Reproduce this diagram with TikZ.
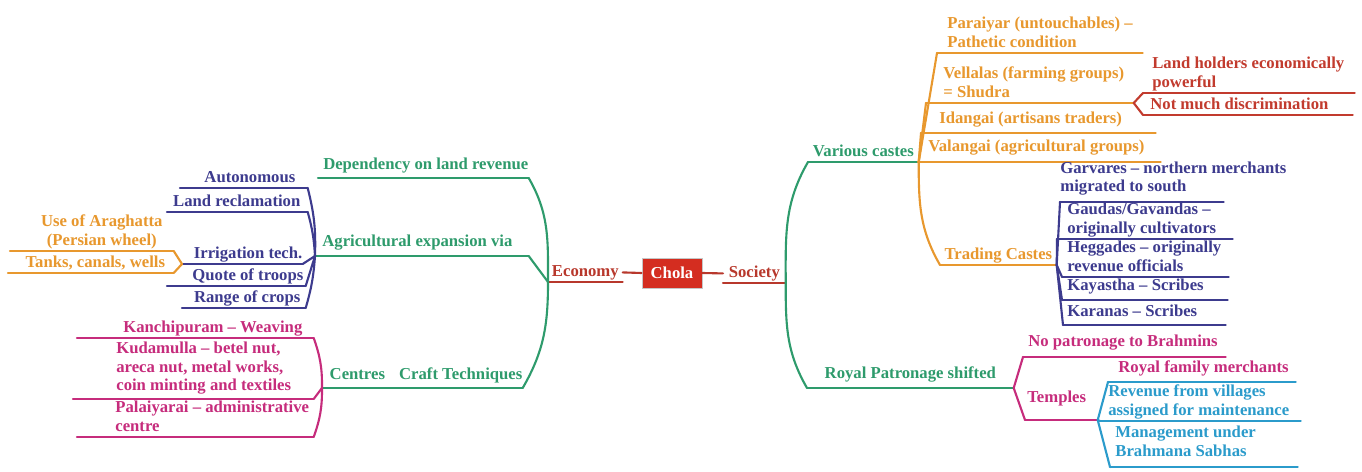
\documentclass[tikz,border=0pt]{standalone}
\usepackage{fontspec}
\setmainfont{Liberation Serif}
\newlength{\pix}
\setlength{\pix}{0.02cm}
\newcommand{\mmfont}{\bfseries\fontsize{9.5}{10.5}\selectfont}
\definecolor{cholared}{HTML}{D42D20}
\definecolor{brick}{HTML}{B8382C}
\definecolor{mmgreen}{HTML}{2E9B6C}
\definecolor{mmblue}{HTML}{3D3B8E}
\definecolor{mmorange}{HTML}{E8982E}
\definecolor{mmpink}{HTML}{C62C7C}
\definecolor{mmred}{HTML}{C23B2E}
\definecolor{mmcyan}{HTML}{2B9BCB}
\tikzset{
	uline/.style={draw=#1, line width=1.2pt, line cap=round},
	link/.style={draw=#1, line width=1.2pt, line cap=round},
	root/.style={draw=gray!45, fill=cholared, text=white, font=\mmfont, minimum width=60\pix, minimum height=30\pix, inner sep=0pt},
	topic/.style={font=\mmfont, text=#1, anchor=south west, inner xsep=0pt, inner ysep=0pt, execute at end node=\strut,
		append after command={(\tikzlastnode.south west) edge[uline=#1] (\tikzlastnode.south east)}},
	lpad/.style={execute at begin node={\leftskip=#1\relax}},
	rpad/.style={execute at begin node={\rightskip=#1\relax}},
	deep/.style={execute at end node={\rule[-#1]{0pt}{#1}}}
}

\begin{document}
\begin{tikzpicture}[x=0.02cm, y=-0.02cm]
	\useasboundingbox[fill=white] (0,0) rectangle (1362,472);
	\node[root] (chola) at (672,273) {Chola};
	\node[topic=brick, text width=74\pix, align=flush center] (econ) at (548,282) {Economy};
	\node[topic=brick, text width=62\pix, align=flush center] (soc) at (723,283) {Society};

	\node[topic=mmgreen, text width=210\pix, align=flush right, deep=4.5pt] (dep) at (318,178) {Dependency on land revenue};
	\node[topic=mmgreen, text width=213\pix, align=flush left, lpad=7\pix, deep=5pt] (agr) at (315,256) {Agricultural expansion via};
	\node[topic=mmgreen, text width=130\pix, align=flush right, deep=4.5pt] (craft) at (392,388) {Craft Techniques};
	\node[topic=mmgreen, text width=70\pix, align=flush center, deep=4.5pt] (centres) at (322,388) {Centres};

	\node[topic=mmblue, text width=127\pix, align=flush right, rpad=12\pix] (auto) at (180,188) {Autonomous};
	\node[topic=mmblue, text width=140\pix, align=flush right, rpad=7\pix] (landrec) at (167,212) {Land reclamation};
	\node[topic=mmblue, text width=120\pix, align=flush right] (irr) at (182,264) {Irrigation tech.};
	\node[topic=mmblue, text width=138\pix, align=flush right, rpad=2\pix] (quote) at (167,286) {Quote of troops};
	\node[topic=mmblue, text width=123\pix, align=flush right, rpad=5\pix] (range) at (182,308) {Range of crops};

	\node[topic=mmorange, text width=163\pix, align=flush center, lpad={20\pix plus 1fil}] (arag) at (10,251) {Use of Araghatta\\(Persian wheel)};
	\node[topic=mmorange, text width=165\pix, align=flush center, lpad={9\pix plus 1fil}] (tanks) at (8,273) {Tanks, canals, wells};

	\node[topic=mmpink, text width=236\pix, align=flush right, rpad=11\pix] (kanchi) at (77,338) {Kanchipuram – Weaving};
	\node[topic=mmpink, text width=240\pix, align=flush left, lpad=43\pix, deep=4.5pt] (kuda) at (73,399) {Kudamulla – betel nut,\\areca nut, metal works,\\coin minting and textiles};
	\node[topic=mmpink, text width=236\pix, align=flush left, lpad=38\pix] (pala) at (77,437) {Palaiyarai – administrative\\centre};

	\node[topic=mmgreen, text width=110\pix, align=flush center] (various) at (808,162) {Various castes};
	\node[topic=mmgreen, text width=206\pix, align=flush center, deep=5pt] (roy) at (807,388) {Royal Patronage shifted};

	\node[topic=mmorange, text width=205\pix, align=flush left, lpad=10\pix] (para) at (937,53) {Paraiyar (untouchables) –\\Pathetic condition};
	\node[topic=mmorange, text width=207\pix, align=flush left, lpad=17\pix] (vell) at (926,103) {Vellalas (farming groups)\\= Shudra};
	\node[topic=mmorange, text width=234\pix, align=flush left, lpad=18\pix, deep=5pt] (idan) at (921,133) {Idangai (artisans traders)};
	\node[topic=mmorange, text width=242\pix, align=flush left, lpad=10\pix, deep=5.5pt] (vala) at (918,162) {Valangai (agricultural groups)};
	\node[topic=mmorange, text width=116\pix, align=flush center] (trad) at (940,265) {Trading Castes};

	\node[topic=mmred, text width=211\pix, align=flush left, lpad=9\pix] (landh) at (1143,93) {Land holders economically\\powerful};
	\node[topic=mmred, text width=209\pix, align=flush left, lpad=7\pix] (notm) at (1143,115) {Not much discrimination};

	\node[topic=mmblue, text width=163\pix, align=flush left, deep=5.5pt] (garv) at (1060,202) {\mbox{Garvares – northern merchants}\\migrated to south};
	\node[topic=mmblue, text width=175\pix, align=flush left, lpad=10\pix] (gaud) at (1057,239) {Gaudas/Gavandas –\\originally cultivators};
	\node[topic=mmblue, text width=166\pix, align=flush left, lpad=5\pix] (hegg) at (1062,277) {Heggades – originally\\revenue officials};
	\node[topic=mmblue, text width=165\pix, align=flush left, lpad=5\pix, deep=5pt] (kaya) at (1062,300) {Kayastha – Scribes};
	\node[topic=mmblue, text width=162\pix, align=flush left, lpad=4\pix, deep=4.5pt] (kara) at (1063,325) {Karanas – Scribes};

	\node[topic=mmpink, text width=202\pix, align=flush left, lpad=5\pix, deep=5.5pt] (nopat) at (1023,357) {No patronage to Brahmins};
	\node[topic=mmpink, text width=72\pix, align=flush left, lpad=2\pix, deep=10pt] (temp) at (1025,420) {Temples};

	\node[topic=mmcyan, text=mmpink, text width=187\pix, align=flush left, lpad=10\pix, deep=5pt] (royf) at (1108,382) {Royal family merchants};
	\node[topic=mmcyan, text width=200\pix, align=flush left, lpad=8\pix] (reve) at (1100,421) {Revenue from villages\\assigned for maintenance};
	\node[topic=mmcyan, text width=187\pix, align=flush left, lpad=5\pix, deep=6pt] (mana) at (1110,467) {Management under\\Brahmana Sabhas};

	\draw[link=brick] (chola.west) -- (econ.east);
	\draw[link=brick] (chola.east) -- (soc.west);

	\draw[link=mmgreen] (econ.south west) to[out=90, in=-60] (dep.south east);
	\draw[link=mmgreen] (econ.south west) -- (agr.south east);
	\draw[link=mmgreen] (econ.south west) to[out=-90, in=60] (craft.south east);

	\draw[link=mmblue] (agr.south west) to[bend right=8] (auto.south east);
	\draw[link=mmblue] (agr.south west) to[bend right=6] (landrec.south east);
	\draw[link=mmblue] (agr.south west) -- (irr.south east);
	\draw[link=mmblue] (agr.south west) -- (quote.south east);
	\draw[link=mmblue] (agr.south west) to[bend left=6] (range.south east);

	\draw[link=mmorange] (irr.south west) -- (arag.south east);
	\draw[link=mmorange] (irr.south west) -- (tanks.south east);

	\draw[link=mmpink] (centres.south west) to[bend right=10] (kanchi.south east);
	\draw[link=mmpink] (centres.south west) -- (kuda.south east);
	\draw[link=mmpink] (centres.south west) to[bend left=10] (pala.south east);

	\draw[link=mmgreen] (soc.south east) to[out=90, in=-120] (various.south west);
	\draw[link=mmgreen] (soc.south east) to[out=-90, in=120] (roy.south west);

	\draw[link=mmorange] (various.south east) -- (para.south west);
	\draw[link=mmorange] (various.south east) -- (vell.south west);
	\draw[link=mmorange] (various.south east) -- (idan.south west);
	\draw[link=mmorange] (various.south east) to[out=-90, in=120] (trad.south west);

	\draw[link=mmred] (vell.south east) -- (landh.south west);
	\draw[link=mmred] (vell.south east) -- (notm.south west);

	\draw[link=mmblue] (trad.south east) -- (garv.south west);
	\draw[link=mmblue] (trad.south east) -- (gaud.south west);
	\draw[link=mmblue] (trad.south east) -- (hegg.south west);
	\draw[link=mmblue] (trad.south east) -- (kaya.south west);
	\draw[link=mmblue] (trad.south east) -- (kara.south west);

	\draw[link=mmpink] (roy.south east) -- (nopat.south west);
	\draw[link=mmpink] (roy.south east) -- (temp.south west);

	\draw[link=mmcyan] (temp.south east) -- (royf.south west);
	\draw[link=mmcyan] (temp.south east) -- (reve.south west);
	\draw[link=mmcyan] (temp.south east) -- (mana.south west);
\end{tikzpicture}
\end{document}
